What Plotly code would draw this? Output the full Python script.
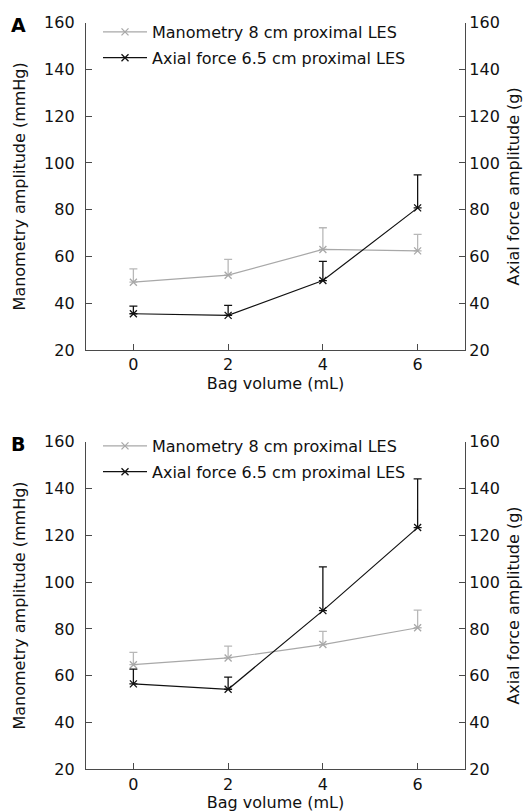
import plotly.graph_objects as go

bag_volume = [0, 2, 4, 6]

# Panel A
a_mano = [49.0, 52.0, 63.0, 62.4]
a_mano_err = [5.7, 6.8, 9.3, 7.1]
a_axial = [35.5, 34.8, 49.7, 80.8]
a_axial_err = [3.3, 4.3, 8.2, 14.1]

# Panel B
b_mano = [64.7, 67.6, 73.3, 80.5]
b_mano_err = [5.3, 5.0, 5.6, 7.5]
b_axial = [56.5, 54.2, 87.8, 123.3]
b_axial_err = [6.3, 5.2, 18.7, 20.8]

name_mano = "Manometry 8 cm proximal LES"
name_axial = "Axial force 6.5 cm proximal LES"
x_title = "Bag volume (mL)"
yl_title = "Manometry amplitude (mmHg)"
yr_title = "Axial force amplitude (g)"
y_ticks = [20, 40, 60, 80, 100, 120, 140, 160]
x_ticks = [0, 2, 4, 6]

W, H = 531, 812
FONT = "DejaVu Sans"
GREY = "#a8a8a8"
GREY_ERR = "#b8b8b8"
BLACK = "#111111"
AXC = "#4a4a4a"

fig = go.Figure()

def add_series(x, y, err, color, errcolor, name, xaxis, yaxis, legend, group):
    fig.add_trace(go.Scatter(
        x=x, y=y, name=name, mode="lines+markers",
        line=dict(color=color, width=1.2),
        marker=dict(symbol="x-thin", size=7, line=dict(color=color, width=1.3)),
        error_y=dict(type="data", array=err, symmetric=False,
                     arrayminus=[0] * len(err), color=errcolor,
                     thickness=1.3, width=4),
        xaxis=xaxis, yaxis=yaxis, legend=legend, legendgroup=group,
    ))

add_series(bag_volume, a_mano, a_mano_err, GREY, GREY_ERR, name_mano, "x", "y", "legend", "a1")
add_series(bag_volume, a_axial, a_axial_err, BLACK, BLACK, name_axial, "x", "y2", "legend", "a2")
add_series(bag_volume, b_mano, b_mano_err, GREY, GREY_ERR, name_mano, "x2", "y3", "legend2", "b1")
add_series(bag_volume, b_axial, b_axial_err, BLACK, BLACK, name_axial, "x2", "y4", "legend2", "b2")

x_dom = [86 / W, 465 / W]
a_dom = [1 - 350 / H, 1 - 22.7 / H]
b_dom = [1 - 769.3 / H, 1 - 441.7 / H]

tick_font = dict(family=FONT, size=16, color="#111")
title_font = dict(family=FONT, size=16, color="#111")

def xax(anchor):
    return dict(domain=x_dom, anchor=anchor, range=[-1, 7], tickvals=x_ticks,
                ticks="inside", ticklen=6, tickcolor=AXC, showline=True,
                linecolor=AXC, linewidth=1.3, showgrid=False, zeroline=False,
                automargin=False,
                tickfont=tick_font, title=dict(text=x_title, font=title_font, standoff=2))

def yax(dom, anchor, side, title, overlay=None):
    left = side == "left"
    d = dict(range=[20, 160], tickvals=y_ticks, ticks="inside", ticklen=6,
             tickcolor=AXC, showline=True, linecolor=AXC, linewidth=1.3,
             showgrid=False, zeroline=False, tickfont=tick_font, side=side,
             automargin=False, ticklabelstandoff=7 if left else 0,
             anchor=anchor,
             title=dict(text=title, font=title_font, standoff=14 if left else 8))
    if overlay:
        d["overlaying"] = overlay
    else:
        d["domain"] = dom
    return d

legend_common = dict(font=dict(family=FONT, size=16, color="#111"),
                      bgcolor="rgba(0,0,0,0)", xanchor="left", yanchor="top",
                      traceorder="grouped", tracegroupgap=2, itemwidth=44)

fig.update_layout(
    width=W, height=H, margin=dict(l=0, r=0, t=0, b=0, autoexpand=False),
    paper_bgcolor="white", plot_bgcolor="white",
    font=dict(family=FONT, size=16, color="#111"),
    xaxis=xax("y"), xaxis2=xax("y3"),
    yaxis=yax(a_dom, "x", "left", yl_title),
    yaxis2=yax(None, "x", "right", yr_title, overlay="y"),
    yaxis3=yax(b_dom, "x2", "left", yl_title),
    yaxis4=yax(None, "x2", "right", yr_title, overlay="y3"),
    legend=dict(x=98 / W, y=1 - 15 / H, **legend_common),
    legend2=dict(x=98 / W, y=1 - 429 / H, **legend_common),
    showlegend=True,
    annotations=[
        dict(text="<b>A</b>", x=18 / W, y=1 - 25 / H, xref="paper", yref="paper",
             xanchor="center", yanchor="middle",
             showarrow=False, font=dict(family=FONT, size=19, color="#000")),
        dict(text="<b>B</b>", x=18 / W, y=1 - 444 / H, xref="paper", yref="paper",
             xanchor="center", yanchor="middle",
             showarrow=False, font=dict(family=FONT, size=19, color="#000")),
    ],
)

fig.write_html("out.html")
